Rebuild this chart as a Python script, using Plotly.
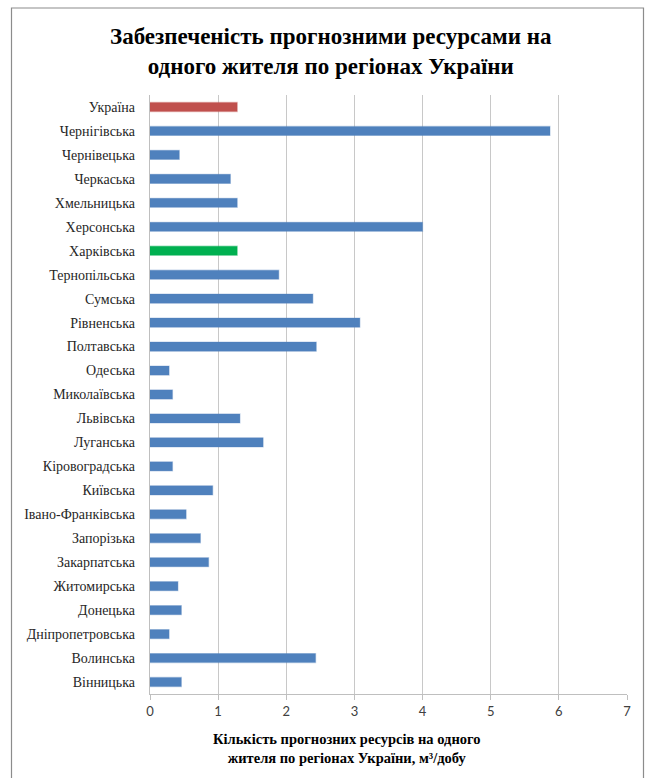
import plotly.graph_objects as go

regions = ["Україна", "Чернігівська", "Чернівецька", "Черкаська", "Хмельницька",
           "Херсонська", "Харківська", "Тернопільська", "Сумська", "Рівненська",
           "Полтавська", "Одеська", "Миколаївська", "Львівська", "Луганська",
           "Кіровоградська", "Київська", "Івано-Франківська", "Запорізька",
           "Закарпатська", "Житомирська", "Донецька", "Дніпропетровська",
           "Волинська", "Вінницька"]
values = [1.28, 5.87, 0.43, 1.18, 1.28,
          4.00, 1.28, 1.89, 2.39, 3.08,
          2.44, 0.28, 0.33, 1.32, 1.66,
          0.33, 0.92, 0.53, 0.74,
          0.86, 0.41, 0.46, 0.28,
          2.43, 0.46]
x_ticks = [0, 1, 2, 3, 4, 5, 6, 7]

BLUE = "#4F81BD"
RED = "#C0504D"
GREEN = "#00B050"
colors = [RED if r == "Україна" else GREEN if r == "Харківська" else BLUE for r in regions]
line_colors = ["rgba(192,80,77,0.35)" if r == "Україна" else
               "rgba(0,176,80,0.35)" if r == "Харківська" else
               "rgba(79,129,189,0.35)" for r in regions]

SERIF = "Liberation Serif"

fig = go.Figure(go.Bar(
    x=values, y=regions, orientation="h",
    marker=dict(color=colors, line=dict(color=line_colors, width=1.2)),
    width=0.38,
))

W, H = 647, 778
fig.update_layout(
    width=W, height=H,
    margin=dict(l=150, r=20, t=95, b=84),
    paper_bgcolor="white", plot_bgcolor="white",
    showlegend=False,
    font=dict(family=SERIF, color="#262626"),
    xaxis=dict(
        range=[0, 7], tickvals=x_ticks, ticktext=[str(t) for t in x_ticks],
        showgrid=True, gridcolor="#C8C8C8", gridwidth=1.3,
        zeroline=False, showline=True, linecolor="#BFBFBF", linewidth=1.3,
        ticks="outside", ticklen=5, tickcolor="#BFBFBF", tickwidth=1.3,
        tickfont=dict(family="Lato", size=13, color="#404040"),
    ),
    yaxis=dict(
        categoryorder="array", categoryarray=regions, autorange="reversed",
        showline=True, linecolor="#BFBFBF", linewidth=1.3,
        showgrid=False, ticks="", ticklabelstandoff=11,
        tickfont=dict(family=SERIF, size=14, color="#262626"),
    ),
)

# chart frame
fig.add_shape(type="rect", xref="paper", yref="paper",
              x0=(11.5 - 150) / (W - 170), x1=(643.5 - 150) / (W - 170),
              y0=(H - 84 - 790) / (H - 179), y1=(H - 84 - 8) / (H - 179),
              line=dict(color="#8C8C8C", width=1.2), layer="below")

fig.add_annotation(
    text="<b>Забезпеченість прогнозними ресурсами на<br>одного жителя по регіонах України</b>",
    xref="paper", yref="paper", x=(331 - 150) / (W - 170), y=(H - 84 - 51) / (H - 179),
    showarrow=False, xanchor="center", yanchor="middle",
    font=dict(family=SERIF, size=23, color="#000000"),
)
fig.add_annotation(
    text="<b>Кількість прогнозних ресурсів на одного<br>жителя по регіонах України, м³/добу</b>",
    xref="paper", yref="paper", x=(346 - 150) / (W - 170), y=(H - 84 - 748) / (H - 179),
    showarrow=False, xanchor="center", yanchor="middle",
    font=dict(family=SERIF, size=14.5, color="#000000"),
)

fig.write_html("out.html")
